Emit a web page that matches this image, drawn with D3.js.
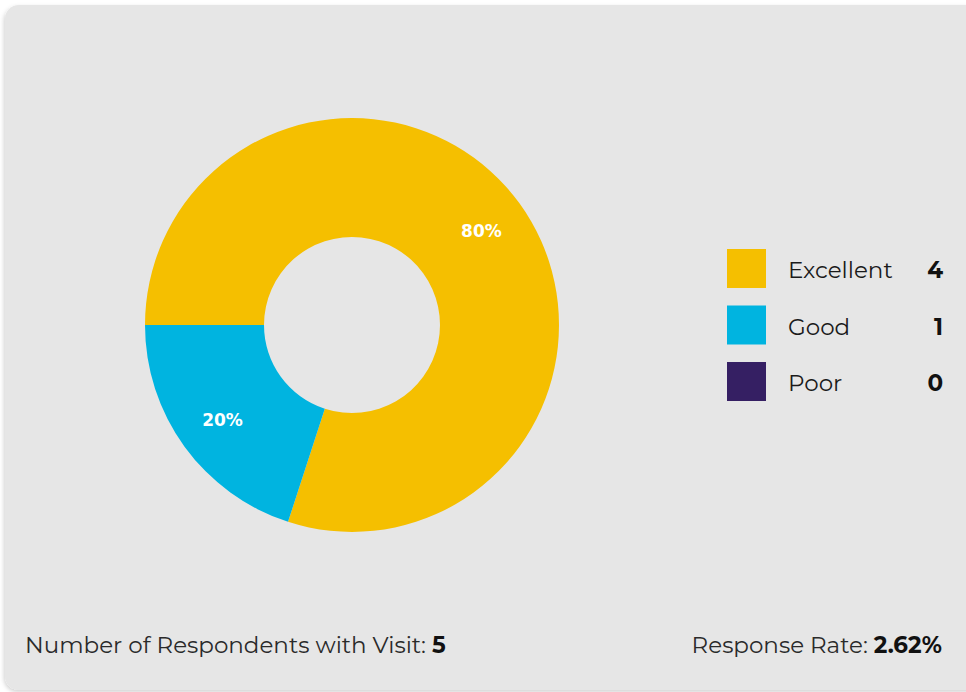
<!DOCTYPE html>
<html>
<head>
<meta charset="utf-8">
<script src="https://cdn.jsdelivr.net/npm/d3@7"></script>
<style>
  html, body { margin: 0; padding: 0; background: #ffffff; }
  svg { display: block; }
</style>
</head>
<body>
<div id="chart"></div>
<script>
// Rating distribution for respondents with a visit
const categories = ["Excellent", "Good", "Poor"];
const counts = [4, 1, 0];
const colors = ["#f5bf00", "#00b4e0", "#351f63"];
const respondents = 5;
const responseRate = "2.62%";

const W = 966, H = 692;
const svg = d3.select("#chart").append("svg").attr("width", W).attr("height", H);

const defs = svg.append("defs");
const shadow = defs.append("filter").attr("id", "cardShadow")
  .attr("x", "-5%").attr("y", "-5%").attr("width", "110%").attr("height", "110%");
shadow.append("feDropShadow").attr("dx", -1).attr("dy", 2).attr("stdDeviation", 2)
  .attr("flood-color", "#000").attr("flood-opacity", 0.18);

// card background
svg.append("rect")
  .attr("x", 5).attr("y", 5).attr("width", W + 20).attr("height", 685)
  .attr("rx", 14).attr("ry", 14)
  .attr("fill", "#e6e6e6")
  .attr("filter", "url(#cardShadow)");

const data = categories.map((c, i) => ({ category: c, count: counts[i], color: colors[i] }));
const total = d3.sum(counts);

// donut
const cx = 352, cy = 325, outerR = 207, innerR = 88;
const pie = d3.pie().value(d => d.count).sort(null)
  .startAngle(-Math.PI / 2).endAngle(1.5 * Math.PI);
const arc = d3.arc().innerRadius(innerR).outerRadius(outerR);
const labelArc = d3.arc().innerRadius(160).outerRadius(160);

const g = svg.append("g").attr("transform", `translate(${cx},${cy})`);
const arcs = pie(data);
g.selectAll("path.slice").data(arcs).join("path")
  .attr("class", "slice")
  .attr("d", arc)
  .attr("fill", d => d.data.color);

g.selectAll("text.pct").data(arcs.filter(d => d.data.count > 0)).join("text")
  .attr("class", "pct")
  .attr("transform", d => `translate(${labelArc.centroid(d)})`)
  .attr("text-anchor", "middle")
  .attr("dy", "0.38em")
  .attr("fill", "#ffffff")
  .attr("font-family", "DejaVu Sans, Verdana, sans-serif")
  .attr("font-weight", "bold")
  .attr("font-size", 17)
  .text(d => d3.format(".0%")(d.data.count / total));

// legend
const legend = svg.append("g");
const y = d3.scaleBand().domain(categories).range([249, 401]).paddingInner(0.31).paddingOuter(0);
const font = "Montserrat, 'Open Sans', Lato, sans-serif";

legend.selectAll("rect").data(data).join("rect")
  .attr("x", 727).attr("y", d => y(d.category))
  .attr("width", 39).attr("height", y.bandwidth())
  .attr("fill", d => d.color);

legend.selectAll("text.name").data(data).join("text")
  .attr("class", "name")
  .attr("x", 788).attr("y", d => y(d.category) + 29)
  .attr("font-family", font).attr("font-size", 23)
  .attr("fill", "#1a1a1a")
  .text(d => d.category);

legend.selectAll("text.val").data(data).join("text")
  .attr("class", "val")
  .attr("x", 943).attr("y", d => y(d.category) + 29)
  .attr("text-anchor", "end")
  .attr("font-family", font).attr("font-size", 23).attr("font-weight", "bold")
  .attr("fill", "#111")
  .text(d => d.count);

// footer
const left = svg.append("text")
  .attr("x", 25).attr("y", 653)
  .attr("font-family", font).attr("font-size", 23).attr("fill", "#2a2a2a");
left.append("tspan").text("Number of Respondents with Visit: ");
left.append("tspan").attr("font-weight", "bold").attr("fill", "#111").text(respondents);

const right = svg.append("text")
  .attr("x", 942).attr("y", 653).attr("text-anchor", "end")
  .attr("font-family", font).attr("font-size", 23).attr("fill", "#2a2a2a");
right.append("tspan").text("Response Rate: ");
right.append("tspan").attr("font-weight", "bold").attr("fill", "#111").text(responseRate);
</script>
</body>
</html>
